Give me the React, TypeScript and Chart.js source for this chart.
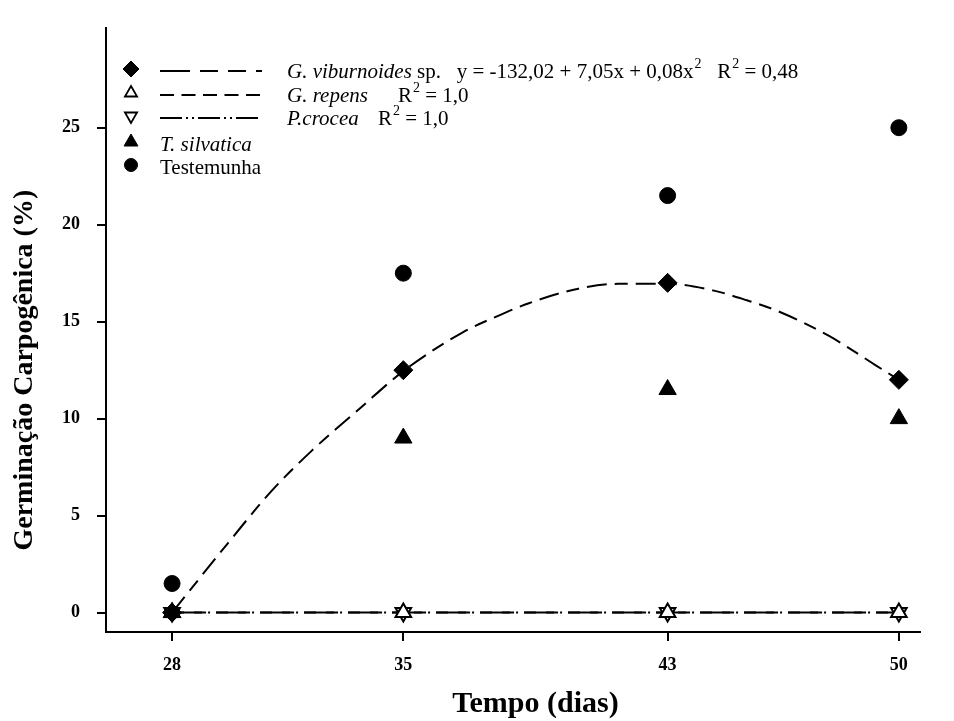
import React, { useEffect, useRef } from "react";
import { Chart, registerables } from "chart.js";
import { drawPoint } from "chart.js/helpers";

Chart.register(...registerables);

// ---- data ----
const days = [28, 35, 43, 50];
const xTickValues = [28, 35, 43, 50];
const yTickValues = [0, 5, 10, 15, 20, 25];

const viburnoides = [0, 12.5, 17, 12];
const repens = [0, 0, 0, 0];
const crocea = [0, 0, 0, 0];
const silvatica = [0, 9, 11.5, 10];
const testemunha = [1.5, 17.5, 21.5, 25];

// fitted curve for G. viburnoides
const fitX = [28, 29.7, 31, 32.2, 33.7, 35, 36.8, 37.8, 38.8, 40.3, 41.5, 43, 44.4, 45.4, 46.4, 47.9, 49.3, 50];
const fitY = [0, 3.6, 6.25, 8.3, 10.55, 12.45, 14.45, 15.25, 15.95, 16.7, 16.95, 16.95, 16.6, 16.1, 15.5, 14.25, 12.75, 12.0];

const xTitle = "Tempo (dias)";
const yTitle = "Germinação Carpogênica (%)";

const SERIF = "'Liberation Serif', 'Times New Roman', serif";

const DASH_VIB = [30, 10, 18, 10, 18, 10];
const DASH_REP = [14, 7.5];
const DASH_CRO = [22, 4, 2, 4, 2, 4];

const pts = (xs: number[], ys: number[]) => xs.map((x, i) => ({ x, y: ys[i] }));

type Seg = { t: string; it?: boolean; sup?: boolean; x?: number };

const legendRows: { y: number; marker: any; dash?: number[]; textX: number; segs: Seg[] }[] = [
  {
    y: 69,
    marker: { style: "rectRot", r: 8, fill: "#000" },
    dash: DASH_VIB,
    textX: 287,
    segs: [
      { t: "G. viburnoides", it: true },
      { t: " sp.   y = -132,02 + 7,05x + 0,08x" },
      { t: "2", sup: true },
      { t: "   R" },
      { t: "2", sup: true },
      { t: " = 0,48" },
    ],
  },
  {
    y: 93,
    marker: { style: "triangle", r: 7, fill: "#fff" },
    dash: DASH_REP,
    textX: 287,
    segs: [
      { t: "G. repens", it: true },
      { t: "R", x: 398 },
      { t: "2", sup: true },
      { t: " = 1,0" },
    ],
  },
  {
    y: 116,
    marker: { style: "triangle", r: 7, fill: "#fff", rot: 180 },
    dash: DASH_CRO,
    textX: 287,
    segs: [
      { t: "P.crocea", it: true },
      { t: "R", x: 378 },
      { t: "2", sup: true },
      { t: " = 1,0" },
    ],
  },
  {
    y: 142,
    marker: { style: "triangle", r: 8, fill: "#000" },
    textX: 160,
    segs: [{ t: "T. silvatica", it: true }],
  },
  {
    y: 165,
    marker: { style: "circle", r: 6.5, fill: "#000" },
    textX: 160,
    segs: [{ t: "Testemunha" }],
  },
];

const legendPlugin = {
  id: "customLegend",
  afterDraw(chart: any) {
    const ctx = chart.ctx as CanvasRenderingContext2D;
    ctx.save();
    for (const row of legendRows) {
      const m = row.marker;
      ctx.setLineDash([]);
      ctx.fillStyle = m.fill;
      ctx.strokeStyle = "#000";
      ctx.lineWidth = m.fill === "#fff" ? 1.8 : 1;
      drawPoint(ctx, { pointStyle: m.style, radius: m.r, rotation: m.rot || 0, borderWidth: ctx.lineWidth } as any, 131, row.y);
      if (row.dash) {
        ctx.beginPath();
        ctx.setLineDash(row.dash);
        ctx.lineWidth = 2;
        ctx.moveTo(160, row.y + 2);
        ctx.lineTo(262, row.y + 2);
        ctx.stroke();
        ctx.setLineDash([]);
      }
      let x = row.textX;
      const base = row.y + 9;
      ctx.fillStyle = "#000";
      ctx.textBaseline = "alphabetic";
      ctx.textAlign = "left";
      for (const s of row.segs) {
        if (s.x !== undefined) x = s.x;
        if (s.sup) {
          ctx.font = `14px ${SERIF}`;
          ctx.fillText(s.t, x + 1, base - 10);
          x += 1;
        } else {
          ctx.font = `${s.it ? "italic " : ""}21px ${SERIF}`;
          ctx.fillText(s.t, x, base);
        }
        x += ctx.measureText(s.t).width;
      }
    }
    ctx.restore();
  },
};

// axis titles centred on the tick range (as in the original figure)
const axisTitlePlugin = {
  id: "axisTitles",
  afterDraw(chart: any) {
    const ctx = chart.ctx as CanvasRenderingContext2D;
    const xs = chart.scales.x;
    const ys = chart.scales.y;
    ctx.save();
    ctx.fillStyle = "#000";
    ctx.textAlign = "center";
    ctx.textBaseline = "middle";
    ctx.font = `bold 30px ${SERIF}`;
    const cx = (xs.getPixelForValue(xTickValues[0]) + xs.getPixelForValue(xTickValues[xTickValues.length - 1])) / 2;
    ctx.fillText(xTitle, cx, 704);
    const cy = (ys.getPixelForValue(yTickValues[0]) + ys.getPixelForValue(yTickValues[yTickValues.length - 1])) / 2;
    ctx.translate(25, cy);
    ctx.rotate(-Math.PI / 2);
    ctx.font = `bold 28px ${SERIF}`;
    ctx.fillText(yTitle, 0, 0);
    ctx.restore();
  },
};

export default function App() {
  const ref = useRef<HTMLCanvasElement>(null);
  useEffect(() => {
    document.body.style.margin = "0";
    const canvas = ref.current!;
    const chart = new Chart(canvas, {
      type: "scatter",
      data: {
        datasets: [
          {
            label: "Testemunha",
            data: pts(days, testemunha),
            pointStyle: "circle",
            pointRadius: 8,
            backgroundColor: "#000",
            borderColor: "#000",
            showLine: false,
            order: 1,
          },
          {
            label: "G. viburnoides sp.",
            data: pts(days, viburnoides),
            pointStyle: "rectRot",
            pointRadius: 9.5,
            backgroundColor: "#000",
            borderColor: "#000",
            showLine: false,
            order: 2,
          },
          {
            label: "T. silvatica",
            data: pts(days, silvatica),
            pointStyle: "triangle",
            pointRadius: 10,
            backgroundColor: "#000",
            borderColor: "#000",
            showLine: false,
            order: 3,
          },
          {
            label: "fit",
            data: pts(fitX, fitY),
            showLine: true,
            pointRadius: 0,
            borderColor: "#000",
            borderWidth: 2,
            borderDash: [20, 8, 13, 8],
            cubicInterpolationMode: "monotone",
            order: 4,
          },
          {
            label: "G. repens",
            data: pts(days, repens),
            showLine: true,
            pointStyle: "triangle",
            pointRadius: 9,
            pointBorderWidth: 2,
            backgroundColor: "#fff",
            borderColor: "#000",
            borderWidth: 2,
            borderDash: [12, 10],
            order: 5,
          },
          {
            label: "P.crocea",
            data: pts(days, crocea),
            showLine: true,
            pointStyle: "triangle",
            pointRotation: 180,
            pointRadius: 9,
            pointBorderWidth: 2,
            backgroundColor: "#fff",
            borderColor: "#000",
            borderWidth: 2,
            borderDash: [30, 6, 2, 6],
            order: 6,
          },
        ],
      },
      options: {
        responsive: false,
        animation: false,
        layout: { padding: { top: 10, right: 34, left: 0, bottom: 0 } },
        plugins: { legend: { display: false }, tooltip: { enabled: false } },
        scales: {
          x: {
            type: "linear",
            min: 26,
            max: 50.64,
            afterFit: (s: any) => {
              s.height = 89;
            },
            afterBuildTicks: (s: any) => {
              s.ticks = xTickValues.map((v) => ({ value: v }));
            },
            grid: { display: true, drawOnChartArea: false, drawTicks: true, tickLength: 9, color: "#000", lineWidth: 2 },
            border: { display: true, color: "#000", width: 2 },
            ticks: {
              color: "#000",
              padding: 14,
              font: { family: SERIF, size: 18, weight: "bold" },
              callback: (v: any) => String(v),
            },
            title: { display: false, text: xTitle },
          },
          y: {
            type: "linear",
            min: -1,
            max: 30.15,
            afterFit: (s: any) => {
              s.width = 106;
            },
            afterBuildTicks: (s: any) => {
              s.ticks = yTickValues.map((v) => ({ value: v }));
            },
            grid: { display: true, drawOnChartArea: false, drawTicks: true, tickLength: 9, color: "#000", lineWidth: 2 },
            border: { display: true, color: "#000", width: 2 },
            ticks: {
              color: "#000",
              padding: 17,
              font: { family: SERIF, size: 18, weight: "bold" },
              callback: (v: any) => String(v),
            },
            title: { display: false, text: yTitle },
          },
        },
      },
      plugins: [legendPlugin, axisTitlePlugin],
    });
    return () => chart.destroy();
  }, []);
  return (
    <div style={{ width: 954, height: 721, background: "#fff" }}>
      <canvas ref={ref} width={954} height={721} style={{ display: "block" }} />
    </div>
  );
}
